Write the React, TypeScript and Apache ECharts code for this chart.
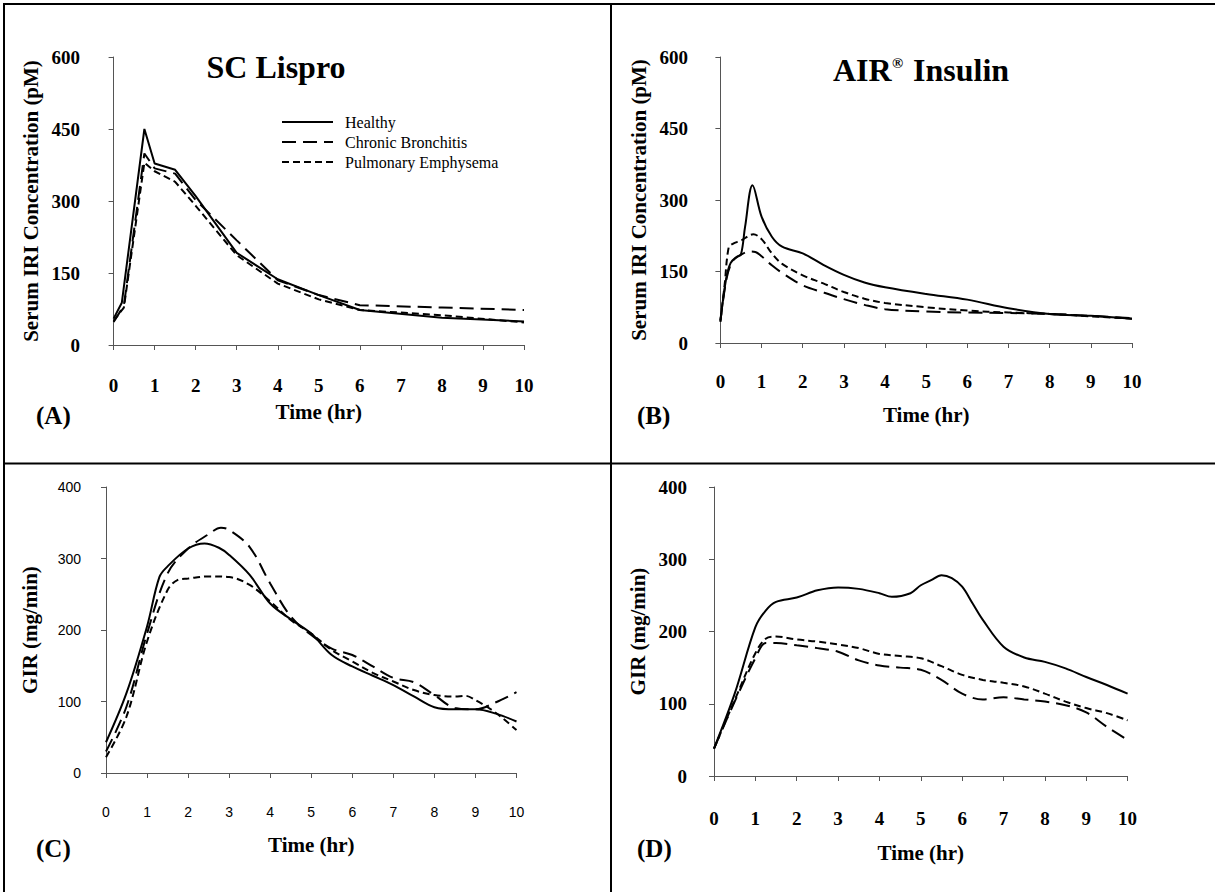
import React, { useEffect, useRef } from "react";
import * as echarts from "echarts";

const SERIF = "'Liberation Serif', 'Times New Roman', serif";
const SANS = "'Liberation Sans', Arial, sans-serif";

const NAMES = ["Healthy", "Chronic Bronchitis", "Pulmonary Emphysema"];

// (A) SC Lispro – serum IRI (pM) vs time (hr)
const A_HEALTHY = [[0, 55], [0.2, 88], [0.75, 450], [1, 378], [1.5, 365], [2, 310], [3, 192], [4, 137], [5, 104], [6, 73], [8, 57], [10, 49]];
const A_BRONCH = [[0, 48], [0.25, 82], [0.75, 399], [1, 368], [1.5, 357], [2, 302], [3, 218], [4, 135], [5, 104], [6, 83], [8, 78], [10, 73]];
const A_EMPHY = [[0, 50], [0.25, 78], [0.75, 380], [1, 362], [1.5, 340], [2, 290], [3, 187], [4, 128], [5, 95], [6, 73], [8, 62], [10, 47]];

// (B) AIR Insulin – serum IRI (pM) vs time (hr)
const B_HEALTHY = [[0, 45], [0.14, 135], [0.25, 168], [0.4, 181], [0.5, 186], [0.6, 244], [0.78, 331], [1, 265], [1.25, 223], [1.5, 202], [2, 188], [2.5, 164], [3, 143], [3.5, 127], [4, 117], [5, 103], [6, 91], [7, 73], [8, 61], [9, 57], [10, 51]];
const B_BRONCH = [[0, 45], [0.15, 135], [0.3, 172], [0.5, 185], [0.7, 192], [0.85, 191], [1, 182], [1.25, 163], [1.5, 147], [2, 121], [2.5, 106], [3, 92], [3.5, 80], [4, 71], [5, 66], [6, 64], [7, 63], [8, 61], [9, 57], [10, 52]];
const B_EMPHY = [[0, 48], [0.1, 120], [0.2, 200], [0.3, 208], [0.5, 215], [0.8, 228], [1, 218], [1.25, 188], [1.5, 166], [2, 142], [2.5, 125], [3, 107], [3.5, 93], [4, 84], [5, 75], [6, 68], [7, 64], [8, 61], [9, 56], [10, 51]];

// (C) SC Lispro – GIR (mg/min) vs time (hr)
const C_HEALTHY = [[0, 43], [0.5, 112], [1, 205], [1.3, 274], [1.5, 289], [2, 314], [2.4, 321], [2.75, 315], [3, 305], [3.5, 277], [4, 237], [4.5, 215], [5, 195], [5.5, 165], [6, 149], [6.5, 136], [7, 123], [7.5, 107], [8, 92], [8.5, 89], [9, 89], [9.5, 83], [10, 72]];
const C_BRONCH = [[0, 30], [0.5, 93], [1, 195], [1.5, 279], [2, 314], [2.5, 334], [2.8, 343], [3, 340], [3.5, 316], [4, 265], [4.5, 219], [5, 193], [5.5, 174], [6, 165], [6.5, 149], [7, 133], [7.5, 127], [8, 109], [8.5, 91], [9, 89], [9.5, 99], [10, 113]];
const C_EMPHY = [[0, 22], [0.5, 79], [1, 184], [1.5, 256], [1.75, 270], [2, 272], [2.5, 275], [3, 274], [3.5, 263], [4, 240], [4.5, 214], [5, 195], [5.5, 172], [6, 156], [6.5, 140], [7, 128], [7.5, 116], [8, 109], [8.5, 107], [8.75, 108], [9, 102], [9.5, 84], [10, 60]];

// (D) AIR Insulin – GIR (mg/min) vs time (hr)
const D_HEALTHY = [[0, 38], [0.5, 114], [1, 206], [1.25, 229], [1.5, 241], [2, 247], [2.5, 257], [3, 261], [3.5, 259], [4, 253], [4.3, 248], [4.75, 253], [5, 264], [5.25, 271], [5.5, 278], [5.75, 274], [6, 262], [6.25, 239], [6.5, 216], [7, 179], [7.5, 164], [8, 158], [8.5, 149], [9, 137], [9.5, 126], [10, 114]];
const D_BRONCH = [[0, 38], [0.5, 103], [1, 163], [1.25, 184], [1.5, 184], [2, 181], [2.5, 177], [3, 172], [3.5, 160], [4, 153], [4.5, 150], [5, 147], [5.5, 133], [6, 114], [6.5, 106], [7, 109], [7.5, 106], [8, 103], [8.5, 98], [9, 88], [9.5, 68], [10, 50]];
const D_EMPHY = [[0, 38], [0.5, 105], [1, 170], [1.25, 190], [1.5, 193], [2, 189], [2.5, 186], [3, 182], [3.5, 177], [4, 169], [4.5, 166], [5, 163], [5.5, 152], [6, 140], [6.5, 133], [7, 129], [7.5, 124], [8, 114], [8.5, 103], [9, 94], [9.5, 87], [10, 77]];

const PANELS = [
  { id: "A", data: [A_HEALTHY, A_BRONCH, A_EMPHY], smooth: false, yMax: 600, yStep: 150, yName: "Serum IRI Concentration (pM)",
    grid: { left: 113.6, top: 57, width: 410.4, height: 288 }, yOff: 19.6, xOff: 14, xGap: 42, labelMargin: 17, sans: false },
  { id: "B", data: [B_HEALTHY, B_BRONCH, B_EMPHY], smooth: true, yMax: 600, yStep: 150, yName: "Serum IRI Concentration (pM)",
    grid: { left: 720.4, top: 57, width: 411.6, height: 286 }, yOff: 18.4, xOff: 15, xGap: 46, labelMargin: 14, sans: false },
  { id: "C", data: [C_HEALTHY, C_BRONCH, C_EMPHY], smooth: true, yMax: 400, yStep: 100, yName: "GIR (mg/min)",
    grid: { left: 106, top: 487, width: 410.5, height: 286 }, yOff: 13, xOff: 17, xGap: 44, labelMargin: 15, sans: true },
  { id: "D", data: [D_HEALTHY, D_BRONCH, D_EMPHY], smooth: true, yMax: 400, yStep: 100, yName: "GIR (mg/min)",
    grid: { left: 714, top: 487, width: 413.6, height: 289 }, yOff: 13, xOff: 16, xGap: 50, labelMargin: 17, sans: false },
];

const DASHES: any[] = ["solid", [14, 7], [7, 4]];

function buildOption() {
  const grids: any[] = [];
  const xAxes: any[] = [];
  const yAxes: any[] = [];
  const series: any[] = [];
  const axisLine = { show: true, lineStyle: { color: "#555", width: 1 } };
  const axisTick = { show: true, length: 5, inside: false, lineStyle: { color: "#555", width: 1 } };
  const nameStyle = { fontFamily: SERIF, fontWeight: "bold", fontSize: 21, color: "#000" };
  PANELS.forEach((p, i) => {
    grids.push({ ...p.grid, containLabel: false });
    const tickLbl = p.sans
      ? { fontFamily: SANS, fontSize: 14, color: "#000" }
      : { fontFamily: SERIF, fontWeight: "bold", fontSize: 19, color: "#000" };
    xAxes.push({
      type: "value", gridIndex: i, min: 0, max: 10, interval: 1, offset: p.xOff,
      axisLine, axisTick, splitLine: { show: false },
      axisLabel: { ...tickLbl, margin: p.labelMargin },
      name: "Time (hr)", nameLocation: "middle", nameGap: p.xGap, nameTextStyle: nameStyle,
    });
    yAxes.push({
      type: "value", gridIndex: i, min: 0, max: p.yMax, interval: p.yStep, offset: p.yOff,
      axisLine, axisTick, splitLine: { show: false },
      axisLabel: { ...tickLbl, margin: p.sans ? 12 : 14 },
      name: p.yName, nameLocation: "middle", nameRotate: 90, nameGap: 53, nameTextStyle: nameStyle,
    });
    p.data.forEach((d, k) => {
      series.push({
        type: "line", name: NAMES[k], xAxisIndex: i, yAxisIndex: i, data: d,
        symbol: "none", showSymbol: false, smooth: p.smooth ? 0.35 : false,
        lineStyle: { color: "#000", width: 2, type: DASHES[k] },
        itemStyle: { color: "#000" },
      });
    });
  });

  const border = (x1: number, y1: number, x2: number, y2: number) => ({
    type: "line", shape: { x1, y1, x2, y2 }, style: { stroke: "#000", lineWidth: 2 }, silent: true,
  });
  const txt = (x: number, y: number, text: string, size: number, align = "left", weight = "bold") => ({
    type: "text", x, y, silent: true,
    style: { text, fill: "#000", font: `${weight} ${size}px ${SERIF}`, textAlign: align, textVerticalAlign: "middle" },
  });

  // legend (panel A), drawn with the same line styles as the series
  const legendRows = NAMES.map((n, k) => {
    const y = 122 + k * 20;
    const dash = k === 0 ? null : DASHES[k];
    return [
      { type: "line", silent: true, shape: { x1: 282, y1: y, x2: 333, y2: y },
        style: { stroke: "#000", lineWidth: 2, lineDash: dash } },
      txt(345, y, n, 16, "left", "normal"),
    ];
  }).flat();

  const graphic = [
    border(3, 4, 1215, 4),
    border(4, 3, 4, 892),
    border(611, 4, 611, 892),
    border(4, 463.5, 1215, 463.5),
    txt(276, 67, "SC Lispro", 32, "center"),
    txt(833, 70, "AIR", 32),
    txt(892, 63, "®", 15),
    txt(905, 70, " Insulin", 32),
    txt(36, 415, "(A)", 25),
    txt(637, 415, "(B)", 25),
    txt(36, 848, "(C)", 25),
    txt(637, 848, "(D)", 25),
    ...legendRows,
  ];

  return {
    animation: false,
    backgroundColor: "#fff",
    grid: grids,
    xAxis: xAxes,
    yAxis: yAxes,
    series,
    graphic,
  };
}

export default function App() {
  const ref = useRef<HTMLDivElement>(null);
  useEffect(() => {
    if (!ref.current) return;
    const chart = echarts.init(ref.current, undefined, { renderer: "svg" });
    chart.setOption(buildOption() as any);
    return () => chart.dispose();
  }, []);
  return (
    <div
      ref={ref}
      style={{ position: "absolute", left: 0, top: 0, width: 1215, height: 892, background: "#fff" }}
    />
  );
}
